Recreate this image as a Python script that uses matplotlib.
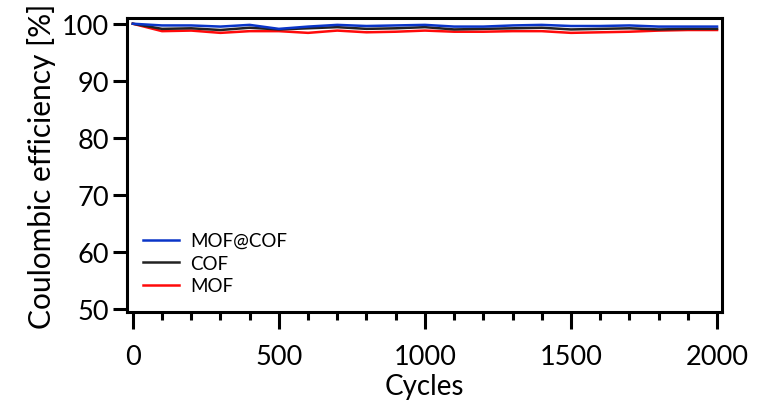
import numpy as np
import matplotlib
matplotlib.use("Agg")
import matplotlib.pyplot as plt
from matplotlib.ticker import MultipleLocator

plt.rcParams['font.family'] = ['Lato', 'DejaVu Sans']

# données
cycles = list(range(0, 2001, 100))
ce_mofcof = [100, 99.7, 99.7, 99.5, 99.8, 99.1, 99.5, 99.8, 99.6, 99.7, 99.8,
             99.5, 99.5, 99.7, 99.8, 99.6, 99.6, 99.7, 99.5, 99.5, 99.5]
ce_cof = [100, 99.1, 99.2, 98.9, 99.3, 99.0, 99.2, 99.4, 99.1, 99.2, 99.4,
          99.0, 99.1, 99.2, 99.3, 99.0, 99.1, 99.2, 99.0, 99.1, 99.1]
ce_mof = [100, 98.7, 98.8, 98.4, 98.7, 98.7, 98.4, 98.8, 98.5, 98.6, 98.8,
          98.6, 98.6, 98.7, 98.7, 98.4, 98.5, 98.6, 98.8, 98.9, 98.9]
labels = ['MOF@COF', 'COF', 'MOF']
colors = ['#0a35c8', '#222222', '#ff0a0a']

fig = plt.figure(figsize=(7.58, 4.10), dpi=100)
ax = fig.add_axes([0.1675, 0.2366, 0.785, 0.717])

handles = []
for y, lab, c, z in zip([ce_mofcof, ce_cof, ce_mof], labels, colors, [4, 3, 2]):
    h, = ax.plot(cycles, y, color=c, lw=1.8, label=lab, zorder=z)
    handles.append(h)

ax.set_xlim(-20, 2017)
ax.set_ylim(49.5, 101)
ax.xaxis.set_major_locator(MultipleLocator(500))
ax.xaxis.set_minor_locator(MultipleLocator(100))
ax.yaxis.set_major_locator(MultipleLocator(10))

for s in ax.spines.values():
    s.set_linewidth(2.2)
ax.tick_params(axis='x', which='major', direction='out', length=12, width=2.2,
               labelsize=19.5, pad=11)
ax.tick_params(axis='x', which='minor', direction='out', length=6, width=2.2)
ax.tick_params(axis='y', which='major', direction='out', length=10, width=2.2,
               labelsize=19.5, pad=3)

ax.set_xlabel('Cycles', fontsize=20, labelpad=3)
ax.set_ylabel('Coulombic efficiency [%]', fontsize=21.5, labelpad=4)

ax.legend(handles=handles, loc='lower left', frameon=False, fontsize=13.5,
          handlelength=1.9, handletextpad=0.6, borderaxespad=0.3,
          labelspacing=0.3, bbox_to_anchor=(0.005, 0.015))

fig.savefig('out.png', dpi=100)
